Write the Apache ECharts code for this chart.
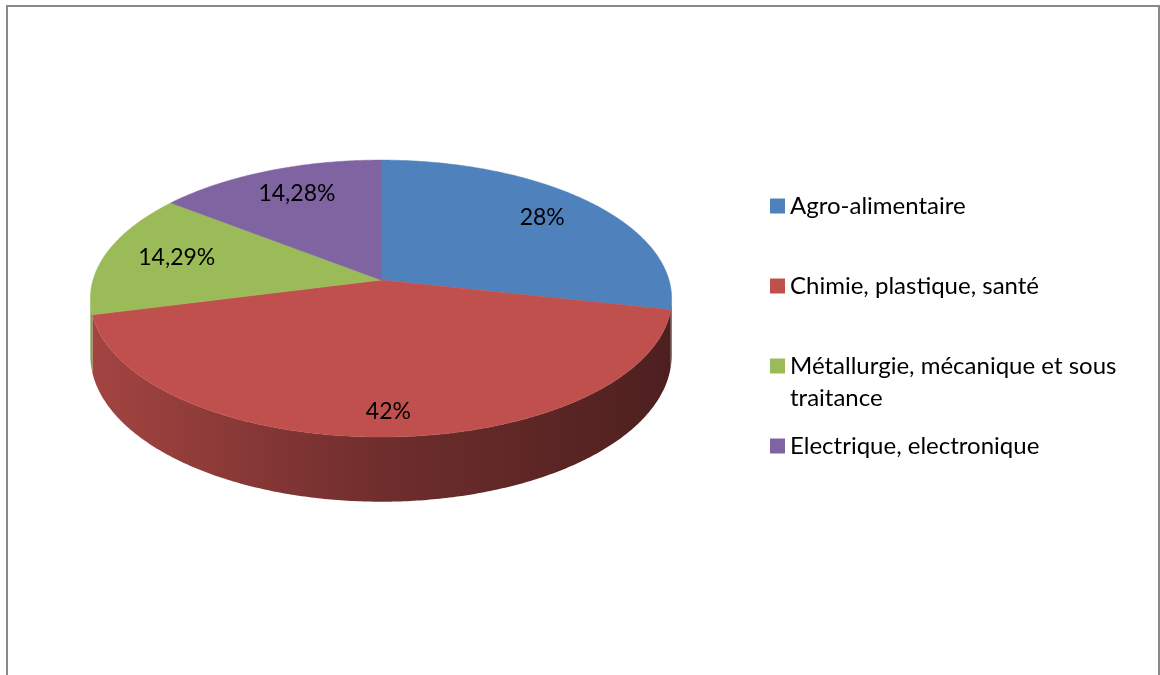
<!DOCTYPE html>
<html>
<head>
<meta charset="utf-8">
<script src="https://cdn.jsdelivr.net/npm/echarts@6/dist/echarts.min.js"></script>
<style>
  html, body { margin: 0; padding: 0; background: #fff; }
  #chart { width: 1160px; height: 675px; }
</style>
</head>
<body>
<div id="chart"></div>
<script>
const categories = [
  'Agro-alimentaire',
  'Chimie, plastique, santé',
  'Métallurgie, mécanique et sous traitance',
  'Electrique, electronique'
];
const values = [28, 42, 14.29, 14.28];
const labels = ['28%', '42%', '14,29%', '14,28%'];
const colors = ['#4f81bd', '#c0504d', '#9bbb59', '#8064a2'];

// pie geometry (tilted disc with a little perspective, like the Excel 3-D pie)
const CX = 381, CY = 280, RX = 288, RY = 136, PERSP = 0.134, DEPTH = 56;
const total = values.reduce((a, b) => a + b, 0);

function project(theta, r) {
  const c = Math.cos(theta), s = Math.sin(theta);
  const k = 1 / (1 + PERSP * c * r);
  return [CX + RX * r * s * k, CY - RY * r * c * k, k];
}

function shade(hex, f) {
  const n = parseInt(hex.slice(1), 16);
  const ch = [(n >> 16) & 255, (n >> 8) & 255, n & 255].map((v) => Math.round(v * f));
  return `rgb(${ch.join(',')})`;
}

function arc(a, b, r) {
  const pts = [];
  const n = Math.max(2, Math.ceil((b - a) / 0.01));
  for (let k = 0; k <= n; k++) {
    const p = project(a + (b - a) * k / n, r);
    pts.push([p[0], p[1]]);
  }
  return pts;
}

function renderSlice(params, api) {
  const i = params.seriesIndex;
  const start = values.slice(0, i).reduce((a, b) => a + b, 0) / total * Math.PI * 2;
  const end = start + api.value(0) / total * Math.PI * 2;
  const color = colors[i];
  const children = [];

  // visible side wall, between the two silhouette points
  const a0 = Math.acos(-PERSP);
  const a1 = Math.PI * 2 - a0;
  const s0 = Math.max(start, a0), s1 = Math.min(end, a1);
  if (s1 > s0) {
    const upper = arc(s0, s1, 1);
    const lower = upper.map((p, k) => {
      const t = s0 + (s1 - s0) * k / (upper.length - 1);
      return [p[0], p[1] + DEPTH * project(t, 1)[2]];
    }).reverse();
    children.push({
      type: 'polygon',
      shape: { points: upper.concat(lower) },
      style: {
        fill: new echarts.graphic.LinearGradient(CX - RX, 0, CX + RX, 0, [
          { offset: 0, color: shade(color, 0.85) },
          { offset: 0.5, color: shade(color, 0.58) },
          { offset: 1, color: shade(color, 0.4) }
        ], true),
        stroke: null
      }
    });
  }

  // top face
  children.push({
    type: 'polygon',
    shape: { points: [[CX, CY]].concat(arc(start, end, 1)) },
    style: { fill: color, stroke: color, lineWidth: 0.5 }
  });

  // data label
  const mid = (start + end) / 2;
  const lp = project(mid, 0.75);
  children.push({
    type: 'text',
    style: {
      text: labels[i],
      x: lp[0] + 3,
      y: lp[1] + Math.max(0, -Math.cos(mid)) * 20 - 2,
      fill: '#000',
      font: '23px Lato',
      align: 'center',
      verticalAlign: 'middle'
    }
  });

  return { type: 'group', children };
}

const legendTops = [190, 270, 318, 430];

const chart = echarts.init(document.getElementById('chart'));
chart.setOption({
  animation: false,
  graphic: [{
    type: 'rect',
    shape: { x: 7, y: 6, width: 1152, height: 720 },
    style: { fill: null, stroke: '#898989', lineWidth: 2 },
    silent: true
  }],
  legend: categories.map((name, i) => ({
    data: [name],
    left: 770,
    top: legendTops[i],
    orient: 'vertical',
    padding: 0,
    icon: 'rect',
    itemWidth: 15,
    itemHeight: 15,
    selectedMode: false,
    // blank first line keeps the marker level with the first text line
    formatter: i === 2 ? '\nMétallurgie, mécanique et sous\ntraitance' : '{name}',
    textStyle: {
      fontFamily: 'Lato',
      fontSize: 24,
      color: '#000',
      lineHeight: 32
    }
  })),
  series: categories.map((name, i) => ({
    type: 'custom',
    name,
    coordinateSystem: 'none',
    itemStyle: { color: colors[i] },
    data: [values[i]],
    renderItem: renderSlice
  }))
});
</script>
</body>
</html>
